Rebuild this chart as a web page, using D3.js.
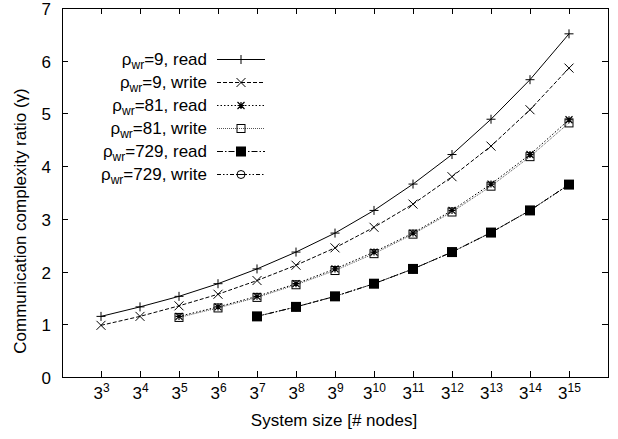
<!DOCTYPE html>
<html>
<head>
<meta charset="utf-8">
<script src="https://cdn.jsdelivr.net/npm/d3@7"></script>
<style>
body { margin: 0; background: #fff; }
text { font-family: "Liberation Sans", Arial, sans-serif; fill: #000; }
</style>
</head>
<body>
<div id="chart"></div>
<script>
// exponents of the system size (3^n nodes)
var exps = [3, 4, 5, 6, 7, 8, 9, 10, 11, 12, 13, 14, 15];
var yTicks = [0, 1, 2, 3, 4, 5, 6, 7];

// series values
var rho9read   = [1.15, 1.33, 1.53, 1.77, 2.05, 2.37, 2.73, 3.16, 3.66, 4.22, 4.89, 5.64, 6.51];
var rho9write  = [0.98, 1.15, 1.35, 1.57, 1.83, 2.12, 2.45, 2.84, 3.28, 3.80, 4.38, 5.07, 5.86];
var rho81read  = [null, null, 1.15, 1.33, 1.53, 1.77, 2.05, 2.37, 2.73, 3.16, 3.66, 4.22, 4.88];
var rho81write = [null, null, 1.13, 1.31, 1.51, 1.75, 2.02, 2.34, 2.71, 3.13, 3.62, 4.18, 4.82];
var rho729read = [null, null, null, null, 1.15, 1.33, 1.53, 1.77, 2.05, 2.37, 2.74, 3.16, 3.65];
var rho729write= [null, null, null, null, 1.15, 1.33, 1.53, 1.77, 2.05, 2.37, 2.74, 3.16, 3.65];

var series = [
  { rho: "9",   kind: "read",  values: rho9read,   dash: null,        marker: "plus",   stroke: "#000" },
  { rho: "9",   kind: "write", values: rho9write,  dash: "4,2",       marker: "cross",  stroke: "#000" },
  { rho: "81",  kind: "read",  values: rho81read,  dash: "1.5,2",     marker: "star",   stroke: "#000" },
  { rho: "81",  kind: "write", values: rho81write, dash: "1,1",       marker: "square", stroke: "#555" },
  { rho: "729", kind: "read",  values: rho729read, dash: "6,2,1.5,2", marker: "fsquare",stroke: "#000" },
  { rho: "729", kind: "write", values: rho729write,dash: "4,2,1.5,2,1.5,2", marker: "circle", stroke: "#000" }
];

var W = 618, H = 439;
var pLeft = 62, pRight = 608, pTop = 8, pBottom = 377;
var fs = "17px", fsSmall = "12px";

var svg = d3.select("#chart").append("svg")
  .attr("width", W).attr("height", H);

var x = d3.scaleLog().base(3)
  .domain([Math.pow(3, 2), Math.pow(3, 16)])
  .range([pLeft, pRight]);

var y = d3.scaleLinear()
  .domain([0, 7])
  .range([pBottom, pTop]);

// frame
svg.append("rect")
  .attr("x", pLeft + 0.5).attr("y", pTop + 0.5)
  .attr("width", pRight - pLeft).attr("height", pBottom - pTop)
  .attr("fill", "none").attr("stroke", "#000").attr("stroke-width", 1);

var tl = 6;
// y ticks, both sides, inward
yTicks.forEach(function (t) {
  var yy = Math.round(y(t)) + 0.5;
  svg.append("line").attr("x1", pLeft).attr("x2", pLeft + tl).attr("y1", yy).attr("y2", yy).attr("stroke", "#000");
  svg.append("line").attr("x1", pRight - tl).attr("x2", pRight).attr("y1", yy).attr("y2", yy).attr("stroke", "#000");
  svg.append("text")
    .attr("x", 51).attr("y", yy + 6)
    .attr("text-anchor", "end")
    .style("font-size", fs)
    .text(t);
});

// x ticks, both sides, inward
exps.forEach(function (e) {
  var xx = Math.round(x(Math.pow(3, e))) + 0.5;
  svg.append("line").attr("x1", xx).attr("x2", xx).attr("y1", pBottom).attr("y2", pBottom - tl).attr("stroke", "#000");
  svg.append("line").attr("x1", xx).attr("x2", xx).attr("y1", pTop).attr("y2", pTop + tl).attr("stroke", "#000");
  var t = svg.append("text")
    .attr("x", xx).attr("y", 399)
    .attr("text-anchor", "middle")
    .style("font-size", fs);
  t.append("tspan").text("3");
  t.append("tspan").attr("dy", -7).style("font-size", fsSmall).text(e);
});

// axis labels
svg.append("text")
  .attr("transform", "translate(26,221) rotate(-90)")
  .attr("text-anchor", "middle")
  .style("font-size", fs)
  .text("Communication complexity ratio (\u03b3)");

svg.append("text")
  .attr("x", 334).attr("y", 426)
  .attr("text-anchor", "middle")
  .style("font-size", fs)
  .text("System size [# nodes]");

// markers
function drawMarker(g, type, cx, cy, stroke) {
  var s = 4.5;
  if (type === "plus") {
    g.append("path").attr("d", "M" + (cx - s) + "," + cy + "H" + (cx + s) + "M" + cx + "," + (cy - s) + "V" + (cy + s))
      .attr("stroke", "#000").attr("fill", "none");
  } else if (type === "cross") {
    g.append("path").attr("d", "M" + (cx - s) + "," + (cy - s) + "L" + (cx + s) + "," + (cy + s) + "M" + (cx - s) + "," + (cy + s) + "L" + (cx + s) + "," + (cy - s))
      .attr("stroke", "#000").attr("fill", "none");
  } else if (type === "star") {
    var a = 3.5;
    g.append("path").attr("d",
      "M" + (cx - a) + "," + cy + "H" + (cx + a) + "M" + cx + "," + (cy - a) + "V" + (cy + a) +
      "M" + (cx - a) + "," + (cy - a) + "L" + (cx + a) + "," + (cy + a) + "M" + (cx - a) + "," + (cy + a) + "L" + (cx + a) + "," + (cy - a))
      .attr("stroke", "#000").attr("stroke-width", 1.2).attr("fill", "none");
  } else if (type === "square") {
    g.append("rect").attr("x", cx - 4).attr("y", cy - 4).attr("width", 8).attr("height", 8)
      .attr("fill", "none").attr("stroke", "#000");
  } else if (type === "fsquare") {
    g.append("rect").attr("x", cx - 5).attr("y", cy - 5).attr("width", 10).attr("height", 10)
      .attr("fill", "#000");
  } else if (type === "circle") {
    g.append("circle").attr("cx", cx).attr("cy", cy).attr("r", 4)
      .attr("fill", "none").attr("stroke", "#000");
    g.append("line").attr("x1", cx - 4).attr("x2", cx + 4).attr("y1", cy).attr("y2", cy).attr("stroke", "#000");
  }
}

var line = d3.line()
  .defined(function (d) { return d.v !== null; })
  .x(function (d) { return x(Math.pow(3, d.e)); })
  .y(function (d) { return y(d.v); })
  .curve(d3.curveLinear);

// draw in reverse so the first series sits on top (write 729 hidden under read 729)
var order = [5, 4, 3, 2, 1, 0];
order.forEach(function (i) {
  var s = series[i];
  var pts = exps.map(function (e, j) { return { e: e, v: s.values[j] }; });
  var g = svg.append("g");
  g.append("path")
    .datum(pts)
    .attr("d", line)
    .attr("fill", "none")
    .attr("stroke", s.stroke)
    .attr("stroke-width", 1)
    .attr("stroke-dasharray", s.dash);
  pts.filter(function (d) { return d.v !== null; }).forEach(function (d) {
    drawMarker(g, s.marker, x(Math.pow(3, d.e)), y(d.v), s.stroke);
  });
});

// legend
var legX = 207, sx1 = 217, sx2 = 265, legY0 = 59, legDy = 23;
series.forEach(function (s, i) {
  var yc = legY0 + i * legDy;
  var t = svg.append("text")
    .attr("x", legX).attr("y", yc + 6)
    .attr("text-anchor", "end")
    .style("font-size", fs);
  t.append("tspan").text("\u03c1");
  t.append("tspan").attr("dy", 4).style("font-size", fsSmall).text("wr");
  t.append("tspan").attr("dy", -4).text("=" + s.rho + ", " + s.kind);
  var g = svg.append("g");
  g.append("line")
    .attr("x1", sx1).attr("x2", sx2).attr("y1", yc + 0.5).attr("y2", yc + 0.5)
    .attr("stroke", s.stroke).attr("stroke-dasharray", s.dash);
  drawMarker(g, s.marker, (sx1 + sx2) / 2, yc + 0.5, s.stroke);
});
</script>
</body>
</html>
